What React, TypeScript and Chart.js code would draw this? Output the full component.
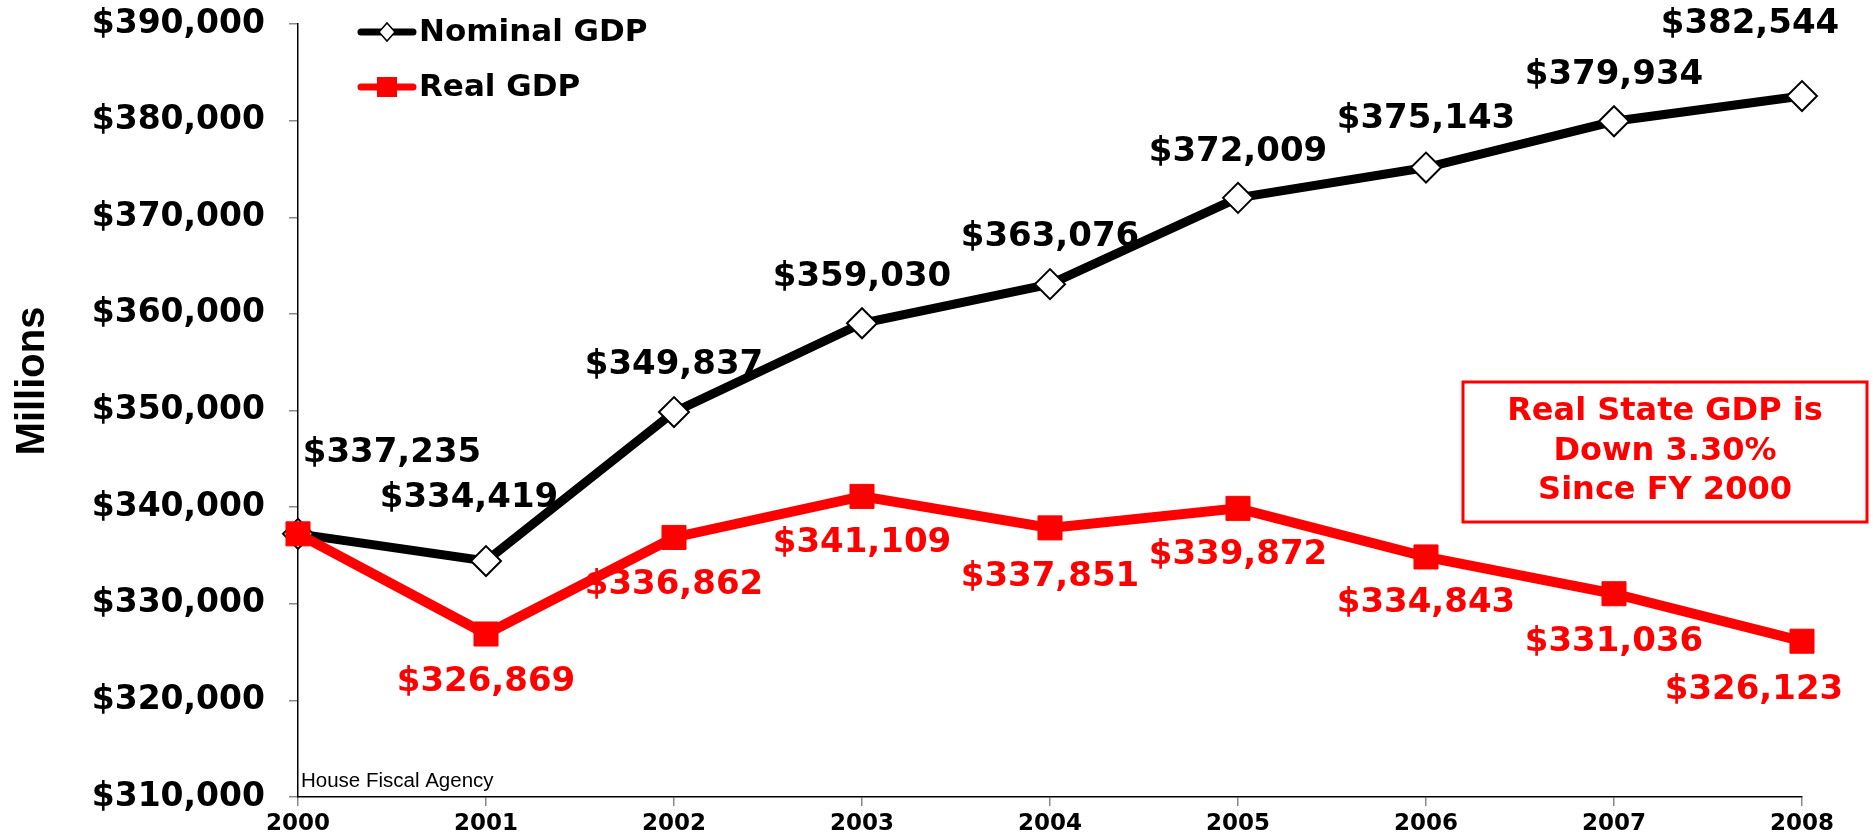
import React, { useEffect, useRef } from 'react';
import { Chart, registerables } from 'chart.js';

Chart.register(...registerables);

// ---- data ----
const years = ['2000', '2001', '2002', '2003', '2004', '2005', '2006', '2007', '2008'];
const nominalGDP = [337235, 334419, 349837, 359030, 363076, 372009, 375143, 379934, 382544];
const realGDP = [337235, 326869, 336862, 341109, 337851, 339872, 334843, 331036, 326123];
const seriesNames = ['Nominal GDP', 'Real GDP'];
const yMin = 310000;
const yMax = 390000;
const yStep = 10000;
const noteLines = ['Real State GDP is', 'Down 3.30%', 'Since FY 2000'];
const sourceText = 'House Fiscal Agency';
const yTitle = 'Millions';

// label placement (pixel offsets from each point), null = no label
const nominalLabelOffsets: ([number, number] | null)[] = [
  [94, -81], [-17, -63], [0, -47], [0, -46], [0, -47], [0, -46], [0, -48], [0, -46], [-52, -72],
];
const realLabelOffsets: ([number, number] | null)[] = [
  null, [0, 48], [0, 48], [0, 47], [0, 49], [0, 47], [0, 46], [0, 48], [-48, 49],
];

const fmt = (v: number) => '$' + Number(v).toLocaleString('en-US');

const TAHOMA = '"DejaVu Sans", Verdana, sans-serif';
const ARIAL = '"Liberation Sans", Arial, sans-serif';

const overlayPlugin = {
  id: 'overlay',
  beforeDatasetsDraw(chart: any) {
    const ctx = chart.ctx;
    const offsets = [nominalLabelOffsets, realLabelOffsets];
    ctx.save();
    ctx.font = `bold 34px ${TAHOMA}`;
    ctx.textAlign = 'center';
    ctx.textBaseline = 'middle';
    chart.data.datasets.forEach((ds: any, di: number) => {
      const meta = chart.getDatasetMeta(di);
      meta.data.forEach((pt: any, i: number) => {
        const o = offsets[di][i];
        if (!o) return;
        ctx.fillStyle = ds.borderColor;
        ctx.fillText(fmt(ds.data[i]), pt.x + o[0], pt.y + o[1]);
      });
    });
    ctx.restore();
  },
  afterDraw(chart: any) {
    const ctx = chart.ctx;
    ctx.save();

    // legend
    const legendY = [32, 87];
    chart.data.datasets.forEach((ds: any, di: number) => {
      const y = legendY[di];
      ctx.strokeStyle = ds.borderColor;
      ctx.lineWidth = 7;
      ctx.lineCap = 'round';
      ctx.beginPath();
      ctx.moveTo(361, y);
      ctx.lineTo(413, y);
      ctx.stroke();
      const cx = 387;
      if (di === 0) {
        ctx.beginPath();
        ctx.moveTo(cx - 8, y);
        ctx.lineTo(cx, y - 9);
        ctx.lineTo(cx + 8, y);
        ctx.lineTo(cx, y + 9);
        ctx.closePath();
        ctx.fillStyle = '#ffffff';
        ctx.fill();
        ctx.lineWidth = 1.5;
        ctx.strokeStyle = '#000000';
        ctx.stroke();
      } else {
        ctx.fillStyle = ds.borderColor;
        ctx.fillRect(cx - 10, y - 10, 20, 20);
      }
      ctx.fillStyle = '#000000';
      ctx.font = `bold 31px ${TAHOMA}`;
      ctx.textAlign = 'left';
      ctx.textBaseline = 'middle';
      ctx.fillText(ds.label, 419, y + 1);
    });

    // note box
    ctx.strokeStyle = '#ff0000';
    ctx.lineWidth = 3;
    ctx.strokeRect(1463, 382, 404, 140);
    ctx.fillStyle = '#ff0000';
    ctx.font = `bold 32px ${TAHOMA}`;
    ctx.textAlign = 'center';
    ctx.textBaseline = 'middle';
    const lineYs = [412, 452, 491];
    noteLines.forEach((t, i) => ctx.fillText(t, 1665, lineYs[i]));

    // source
    ctx.fillStyle = '#000000';
    ctx.font = `20.5px ${ARIAL}`;
    ctx.textAlign = 'left';
    ctx.textBaseline = 'alphabetic';
    ctx.fillText(sourceText, 301, 787);

    // y-axis title
    ctx.save();
    ctx.translate(44, 381);
    ctx.rotate(-Math.PI / 2);
    ctx.font = `bold 40px ${ARIAL}`;
    ctx.textAlign = 'center';
    ctx.textBaseline = 'alphabetic';
    ctx.fillStyle = '#000000';
    ctx.fillText(yTitle, 0, 0);
    ctx.restore();

    ctx.restore();
  },
};

export default function App() {
  const ref = useRef<HTMLCanvasElement | null>(null);

  useEffect(() => {
    if (!ref.current) return;
    const chart = new Chart(ref.current, {
      type: 'line',
      data: {
        labels: years,
        datasets: [
          {
            label: seriesNames[0],
            data: nominalGDP,
            borderColor: '#000000',
            backgroundColor: '#ffffff',
            borderWidth: 9,
            tension: 0,
            pointStyle: 'rectRot',
            pointRadius: 15,
            pointBackgroundColor: '#ffffff',
            pointBorderColor: '#000000',
            pointBorderWidth: 2,
            order: 2,
          },
          {
            label: seriesNames[1],
            data: realGDP,
            borderColor: '#ff0000',
            backgroundColor: '#ff0000',
            borderWidth: 10,
            tension: 0,
            pointStyle: 'rect',
            pointRadius: 17,
            pointBackgroundColor: '#ff0000',
            pointBorderColor: '#ff0000',
            pointBorderWidth: 1,
            order: 1,
          },
        ],
      },
      options: {
        responsive: false,
        animation: false,
        layout: { padding: { top: 24, right: 71, left: 0, bottom: 0 } },
        plugins: {
          legend: { display: false },
          tooltip: { enabled: false },
        },
        scales: {
          x: {
            type: 'category',
            offset: false,
            grid: {
              display: true,
              drawOnChartArea: false,
              drawTicks: true,
              tickLength: 9,
              color: '#888888',
              lineWidth: 1.5,
            },
            border: { display: true, color: '#000000', width: 1.5 },
            ticks: {
              color: '#000000',
              font: { family: TAHOMA, weight: 'bold', size: 23 },
              padding: 4,
              maxRotation: 0,
              autoSkip: false,
            },
            afterFit: (s: any) => {
              s.height = 42;
              s.paddingLeft = 0;
              s.paddingRight = 0;
            },
          },
          y: {
            min: yMin,
            max: yMax,
            grid: {
              display: true,
              drawOnChartArea: false,
              drawTicks: true,
              tickLength: 9,
              color: '#888888',
              lineWidth: 1.5,
            },
            border: { display: true, color: '#000000', width: 1.5 },
            ticks: {
              stepSize: yStep,
              color: '#000000',
              font: { family: TAHOMA, weight: 'bold', size: 33 },
              padding: 24,
              callback: (v: any) => fmt(v),
            },
            afterFit: (s: any) => {
              s.width = 298;
              s.paddingTop = 0;
              s.paddingBottom = 0;
            },
          },
        },
      } as any,
      plugins: [overlayPlugin],
    });
    return () => chart.destroy();
  }, []);

  return (
    <div style={{ position: 'absolute', left: 0, top: 0, width: 1873, height: 839, background: '#ffffff' }}>
      <canvas ref={ref} width={1873} height={839} style={{ display: 'block' }} />
    </div>
  );
}
